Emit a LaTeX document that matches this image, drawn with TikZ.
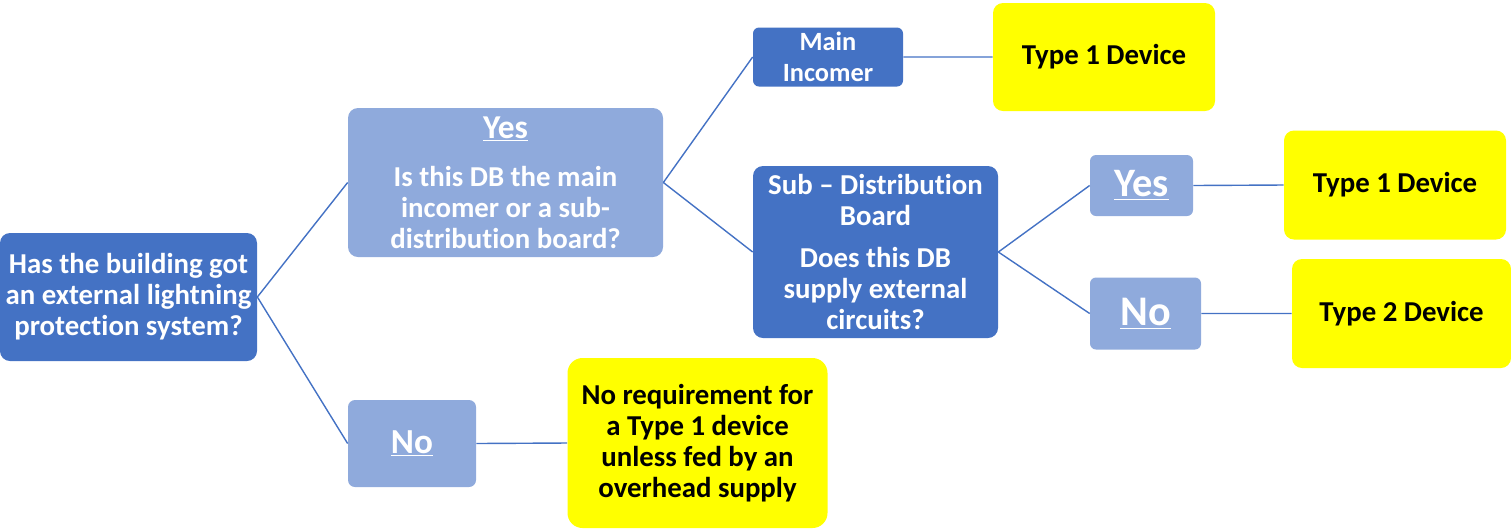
\documentclass[tikz,border=0pt]{standalone}
\usepackage{fontspec}
\setmainfont{Carlito}[Ligatures=NoCommon]
\usepackage{tikz}
\definecolor{darkblue}{HTML}{4472C4}
\definecolor{lightblue}{HTML}{8FAADC}
\definecolor{brightyellow}{HTML}{FFFF00}
\tikzset{
box/.style={rounded corners=0.2cm, align=center, inner sep=0pt, font=\fontsize{16.4}{17.6}\selectfont\bfseries}, % common look of all boxes
question/.style={box, fill=darkblue, text=white}, % dark blue question boxes
answer/.style={box, fill=lightblue, text=white}, % light blue yes/no boxes
result/.style={box, fill=brightyellow, text=black}, % yellow outcome boxes
link/.style={draw=darkblue, line width=0.8pt}, % connecting lines
}
\begin{document}
\begin{tikzpicture}
                \useasboundingbox (0,0) rectangle (30.22,-10.58);
                \node[question, minimum width=5.14cm, minimum height=2.56cm] (root) at (2.57,-5.94) {Has the building got\\an external lightning\\protection system?};
                \node[answer, minimum width=6.30cm, minimum height=2.98cm] (yes1) at (10.11,-3.65) {{\fontsize{19}{20}\selectfont\underline{Yes}}\\[10pt]Is this DB the main\\incomer or a sub-\\distribution board?};
                \node[answer, minimum width=2.56cm, minimum height=1.74cm, rounded corners=0.14cm] (no1) at (8.24,-8.87) {\fontsize{20}{22}\selectfont\underline{No}};
                \node[question, minimum width=3.0cm, minimum height=1.18cm, rounded corners=0.12cm, font=\fontsize{15}{17.6}\selectfont\bfseries] (main) at (16.56,-1.14) {Main\\Incomer};
                \node[result, minimum width=4.44cm, minimum height=2.16cm] (type1a) at (22.08,-1.14) {Type 1 Device};
                \node[question, minimum width=4.90cm, minimum height=3.44cm] (sub) at (17.51,-5.04) {Sub -- Distribution\\Board\\[6pt]Does this DB\\supply external\\circuits?};
                \node[answer, minimum width=2.06cm, minimum height=1.22cm, rounded corners=0.12cm] (yes2) at (22.83,-3.71) {\fontsize{23}{24}\selectfont\underline{Yes}};
                \node[result, minimum width=4.44cm, minimum height=2.18cm] (type1b) at (27.9,-3.7) {Type 1 Device};
                \node[answer, minimum width=2.22cm, minimum height=1.44cm, rounded corners=0.12cm] (no2) at (22.91,-6.27) {\fontsize{24}{26}\selectfont\underline{No}};
                \node[result, minimum width=4.38cm, minimum height=2.18cm] (type2) at (28.03,-6.27) {Type 2 Device};
                \node[result, minimum width=5.2cm, minimum height=3.4cm, rounded corners=0.3cm] (noreq) at (13.95,-8.86) {No requirement for\\a Type 1 device\\unless fed by an\\overhead supply};
                \draw[link]
                    (root.east) -- (yes1.west)
                    (root.east) -- (no1.west)
                    (yes1.east) -- (main.west)
                    (yes1.east) -- (sub.west)
                    (main.east) -- (type1a.west)
                    (sub.east) -- (yes2.west)
                    (sub.east) -- (no2.west)
                    (yes2.east) -- (type1b.west)
                    (no2.east) -- (type2.west)
                    (no1.east) -- (noreq.west)
                    ;
\end{tikzpicture}
\end{document}
